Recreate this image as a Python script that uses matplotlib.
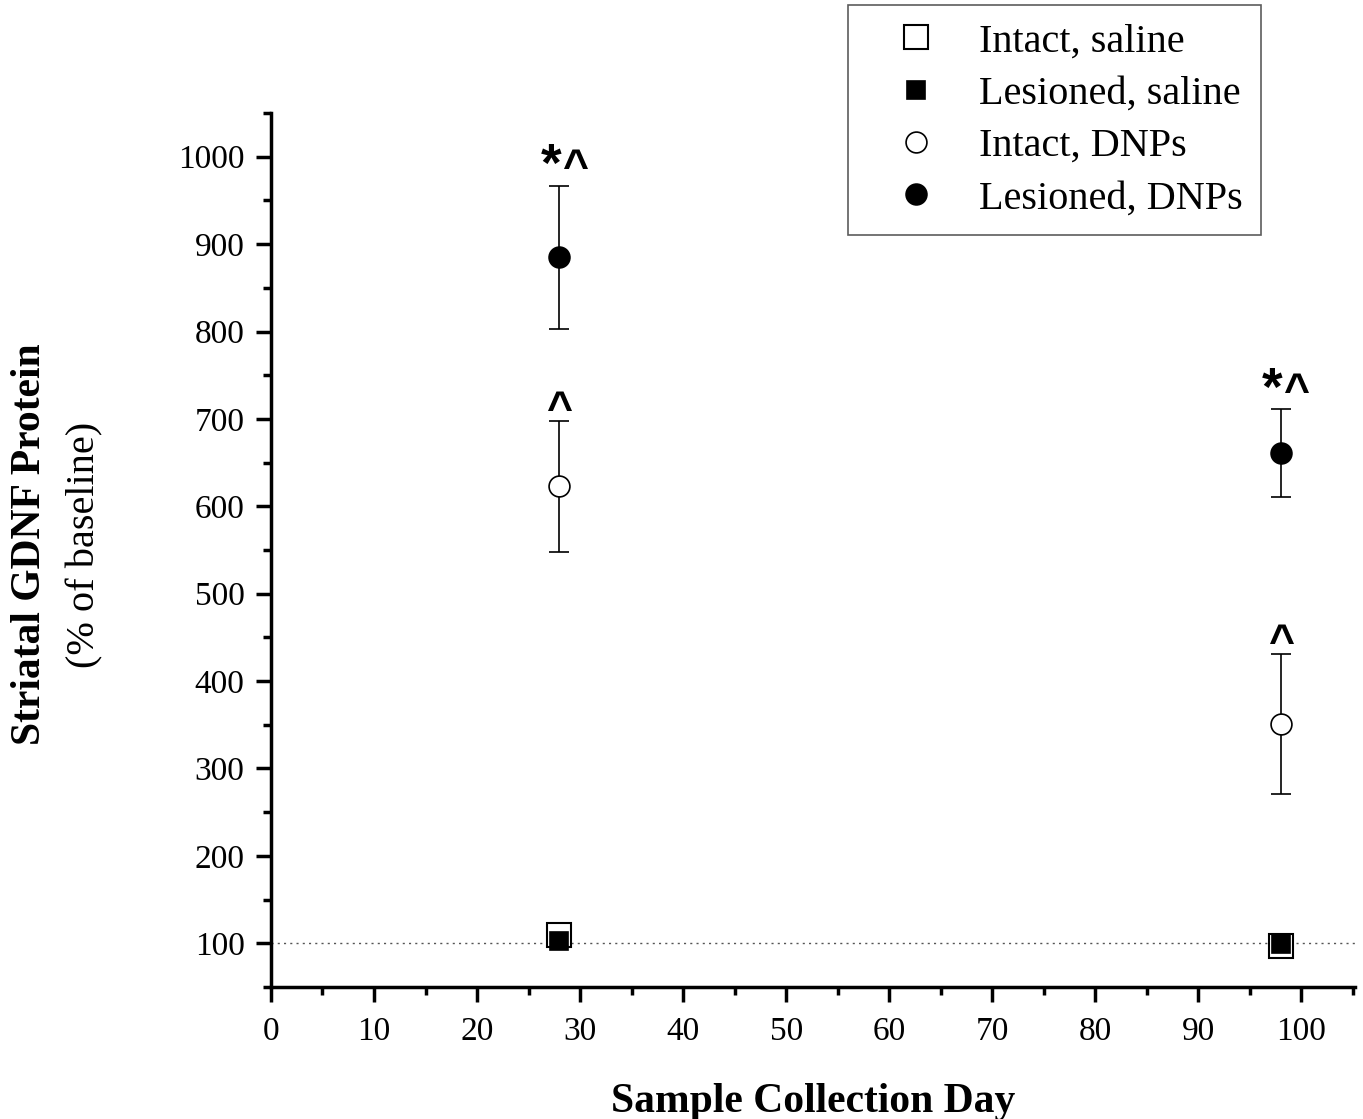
import matplotlib
matplotlib.use("Agg")
import matplotlib.pyplot as plt
from matplotlib.lines import Line2D
from matplotlib.ticker import MultipleLocator

# values
days = [28, 98]
intact_saline = [110, 97]
lesioned_saline = [103, 99]
intact_dnps = [623, 351]
intact_dnps_err = [75, 80]
lesioned_dnps = [885, 661]
lesioned_dnps_err = [82, 50]

plt.rcParams["font.family"] = "Liberation Serif"

fig = plt.figure(figsize=(13.63, 11.19), dpi=100)
ax = fig.add_axes([0.1988, 0.118, 0.7953, 0.781])

ax.axhline(100, color="#555555", lw=1, ls=(0, (1.5, 3)), zorder=1)

eb = dict(ecolor="black", elinewidth=1.2, capsize=7, capthick=1.2, ms=15, mew=1.2, zorder=3)
ax.errorbar(days, intact_dnps, yerr=intact_dnps_err, fmt="o", mfc="white", mec="black", **eb)
ax.errorbar(days, lesioned_dnps, yerr=lesioned_dnps_err, fmt="o", mfc="black", mec="black", **eb)
ax.plot(days, intact_saline, "s", mfc="white", mec="black", ms=17, mew=1.5, zorder=4)
ax.plot(days, lesioned_saline, "s", mfc="black", mec="black", ms=13, mew=1.2, zorder=5)

# significance marks: "*^" above lesioned DNPs, "^" above intact DNPs
sym = dict(textcoords="offset points", ha="center", va="baseline", fontweight="bold",
           family="Liberation Sans")
for d, v, e in zip(days, lesioned_dnps, lesioned_dnps_err):
    ax.annotate("*", (d, v + e), xytext=(-6, 3), fontsize=38, **sym)
    ax.annotate("^", (d, v + e), xytext=(11, 4), fontsize=32, **sym)
for d, v, e in zip(days, intact_dnps, intact_dnps_err):
    ax.annotate("^", (d, v + e), xytext=(0, -1), fontsize=32, **sym)

ax.set_xlim(0, 105.2)
ax.set_ylim(50, 1050)
ax.xaxis.set_major_locator(MultipleLocator(10))
ax.xaxis.set_minor_locator(MultipleLocator(5))
ax.yaxis.set_minor_locator(MultipleLocator(50))
ax.set_yticks(range(100, 1001, 100))

for s in ["top", "right"]:
    ax.spines[s].set_visible(False)
for s in ["left", "bottom"]:
    ax.spines[s].set_linewidth(2.5)
ax.tick_params(which="major", direction="out", length=11, width=2.5, labelsize=24)
ax.tick_params(axis="x", which="major", pad=10)
ax.tick_params(axis="y", which="major", pad=8)
ax.tick_params(which="minor", direction="out", length=6, width=2.5)

ax.set_xlabel("Sample Collection Day", fontsize=30, fontweight="bold", labelpad=26)
fig.text(0.022, 0.514, "Striatal GDNF Protein", rotation=90, fontsize=30, fontweight="bold",
         ha="center", va="center")
fig.text(0.062, 0.513, "(% of baseline)", rotation=90, fontsize=29, ha="center", va="center")

handles = [
    Line2D([], [], ls="none", marker="s", mfc="white", mec="black", ms=17, mew=1.5),
    Line2D([], [], ls="none", marker="s", mfc="black", mec="black", ms=13, mew=1.2),
    Line2D([], [], ls="none", marker="o", mfc="white", mec="black", ms=15, mew=1.2),
    Line2D([], [], ls="none", marker="o", mfc="black", mec="black", ms=15, mew=1.2),
]
labels = ["Intact, saline", "Lesioned, saline", "Intact, DNPs", "Lesioned, DNPs"]
leg = ax.legend(handles, labels, loc="upper left", borderaxespad=0,
                bbox_to_anchor=(848 / 1363, 1 - 5 / 1119), bbox_transform=fig.transFigure,
                fontsize=29, frameon=True, fancybox=False, edgecolor="#333333",
                handletextpad=0.3, borderpad=0.45, labelspacing=0.375, handlelength=2.5)
leg.get_frame().set_linewidth(1.2)

fig.savefig("out.png", dpi=100)
